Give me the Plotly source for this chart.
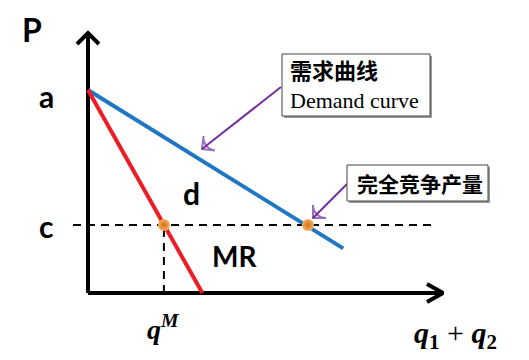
import plotly.graph_objects as go

# ---------------- data (economic units) ----------------
price_labels = ["a", "c"]
price_values = [10.0, 3.35]           # intercept a, marginal cost c
demand_q = [0.0, 11.6]
demand_p = [10.0, 2.2]
mr_q = [0.0, 5.2]
mr_p = [10.0, 0.0]
eq_q = [3.45, 10.0]                   # monopoly q^M, competitive quantity
eq_p = [3.35, 3.35]

# ---------------- layout helpers (pixel -> data) ----------------
W, H = 529, 360
X0, Y0 = 88, 293
SX, SY = 22.0, 20.3
def qx(px): return (px - X0) / SX
def py(pv): return (Y0 - pv) / SY

fig = go.Figure()

# dashed guide lines
c_val = price_values[1]
fig.add_trace(go.Scatter(x=[qx(73), qx(431)], y=[c_val, c_val], mode="lines",
                         line=dict(color="black", width=2, dash="8px,6px"), hoverinfo="skip"))
fig.add_trace(go.Scatter(x=[eq_q[0], eq_q[0]], y=[0, c_val], mode="lines",
                         line=dict(color="black", width=2, dash="8px,6px"), hoverinfo="skip"))

# axes
fig.add_trace(go.Scatter(x=[0, 0], y=[0, py(35)], mode="lines",
                         line=dict(color="black", width=4), hoverinfo="skip"))
fig.add_trace(go.Scatter(x=[0, qx(440)], y=[0, 0], mode="lines",
                         line=dict(color="black", width=4), hoverinfo="skip"))
# arrow heads (chevrons)
fig.add_trace(go.Scatter(x=[qx(77), qx(88), qx(99)], y=[py(44), py(33), py(44)], mode="lines",
                         line=dict(color="black", width=4), hoverinfo="skip"))
fig.add_trace(go.Scatter(x=[qx(427), qx(443), qx(427)], y=[py(284), py(293), py(302)], mode="lines",
                         line=dict(color="black", width=4), hoverinfo="skip"))

# curves
fig.add_trace(go.Scatter(x=demand_q, y=demand_p, mode="lines",
                         line=dict(color="#1f77c4", width=4), hoverinfo="skip"))
fig.add_trace(go.Scatter(x=mr_q, y=mr_p, mode="lines",
                         line=dict(color="#ee1c25", width=4), hoverinfo="skip"))

# equilibrium dots
fig.add_trace(go.Scatter(x=eq_q, y=eq_p, mode="markers",
                         marker=dict(size=12, color="#f8b060",
                                     gradient=dict(type="radial", color="#d0701c"),
                                     line=dict(width=0)), hoverinfo="skip"))

# purple pointer arrows (line + open chevron head)
for (tx, ty, hx, hy) in [(281, 87, 202, 149), (347, 184, 313, 218)]:
    fig.add_trace(go.Scatter(x=[qx(tx), qx(hx)], y=[py(ty), py(hy)], mode="lines",
                             line=dict(color="#7030a0", width=2), hoverinfo="skip"))
    fig.add_trace(go.Scatter(x=[qx(tx), qx(hx)], y=[py(ty), py(hy)], mode="markers",
                             marker=dict(symbol=["line-ns", "arrow-wide-open"], size=[0, 13],
                                         angleref="previous", color="#7030a0",
                                         line=dict(color="#7030a0", width=2)),
                             hoverinfo="skip"))

# annotation boxes
shapes = []
def box(x0, y0, x1, y1):
    shapes.append(dict(type="rect", xref="x", yref="y", x0=qx(x0 + 2), x1=qx(x1 + 2),
                       y0=py(y0 + 2), y1=py(y1 + 2), line=dict(width=0), fillcolor="#9a9a9a"))
    shapes.append(dict(type="rect", xref="x", yref="y", x0=qx(x0), x1=qx(x1),
                       y0=py(y0), y1=py(y1), line=dict(color="#444444", width=1), fillcolor="white"))
box(282, 54, 430, 116)
box(347, 165, 488, 201)

anns = []
def label(text, px, pv, size, family, color="black", xanchor="center", align="center"):
    anns.append(dict(x=qx(px), y=py(pv), xref="x", yref="y", text=text, showarrow=False,
                     font=dict(size=size, family=family, color=color), xanchor=xanchor,
                     yanchor="middle", align=align))

sans = "Lato, Liberation Sans, sans-serif"
serif = "Liberation Serif, DejaVu Serif, serif"
cjk = "Noto Sans CJK SC"
label("<b>P</b>", 32, 29, 32, sans)
label("<b>%s</b>" % price_labels[0], 46, 96, 30, sans)
label("<b>%s</b>" % price_labels[1], 46, 226, 30, sans)
label("<b>d</b>", 191, 193, 30, sans)
label("<b>MR</b>", 234, 256, 28, sans)
label("<b><i>q</i></b><sup><b><i>M</i></b></sup>", 163, 327, 28, serif)
label("<b><i>q</i></b><sub><b>1</b></sub> + <b><i>q</i></b><sub><b>2</b></sub>", 455, 335, 30, serif)
label("<b>需求曲线</b><br>Demand curve", 288, 86, 22,
      "Liberation Serif, Noto Sans CJK SC, serif", xanchor="left", align="left")
label("<b>完全竞争产量</b>", 355, 183, 21, cjk, xanchor="left")

fig.update_layout(
    width=W, height=H, margin=dict(l=0, r=0, t=0, b=0),
    paper_bgcolor="white", plot_bgcolor="white", showlegend=False,
    xaxis=dict(range=[qx(0), qx(W)], visible=False, fixedrange=True),
    yaxis=dict(range=[py(H), py(0)], visible=False, fixedrange=True),
    shapes=shapes, annotations=anns,
)
fig.write_html("out.html", config={"displayModeBar": False, "staticPlot": True})

# remove default page margin so the figure sits at the window's top-left corner
with open("out.html", encoding="utf-8") as f:
    html = f.read()
html = html.replace("<head>", "<head><style>html,body{margin:0;padding:0;overflow:hidden}</style>", 1)
with open("out.html", "w", encoding="utf-8") as f:
    f.write(html)
